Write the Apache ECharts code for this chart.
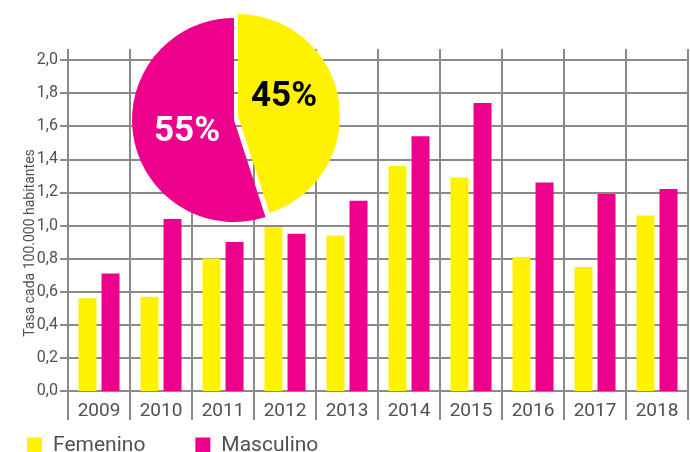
<!DOCTYPE html>
<html>
<head>
<meta charset="utf-8">
<script src="https://cdn.jsdelivr.net/npm/echarts@6/dist/echarts.min.js"></script>
<style>
  html, body {margin: 0; padding: 0; background: #fff;}
  #chart {width: 690px; height: 452px;}
</style>
</head>
<body>
<div id="chart"></div>
<script>
var years = ['2009', '2010', '2011', '2012', '2013', '2014', '2015', '2016', '2017', '2018'];
var femenino = [0.56, 0.57, 0.80, 0.99, 0.94, 1.36, 1.29, 0.81, 0.75, 1.06];
var masculino = [0.71, 1.04, 0.90, 0.95, 1.15, 1.54, 1.74, 1.26, 1.19, 1.22];
var share = {femenino: 45, masculino: 55};

var font = "'Liberation Sans Narrow', 'Arial Narrow', Roboto, sans-serif";
var gris = '#8a8a8a';
var texto = '#505050';
var amarillo = '#fff200';
var magenta = '#ec008c';

var chart = echarts.init(document.getElementById('chart'));

var option = {
    animation: false,
    grid: [
        {left: 68, right: 2, top: 60, bottom: 61},
        {left: 68, right: 2, top: 49, bottom: 32}
    ],
    xAxis: [
        {type: 'category', gridIndex: 0, data: years,
            axisLine: {lineStyle: {color: gris, width: 2}},
            axisTick: {show: false},
            axisLabel: {color: texto, fontFamily: font, fontSize: 19, margin: 11},
            splitLine: {show: false}},
        {type: 'category', gridIndex: 1, data: years,
            axisLine: {show: false}, axisTick: {show: false}, axisLabel: {show: false},
            splitLine: {show: true, showMinLine: true, showMaxLine: true, lineStyle: {color: gris, width: 2}}}
    ],
    yAxis: [
        {type: 'value', gridIndex: 0, min: 0, max: 2, interval: 0.2,
            axisLine: {show: true, lineStyle: {color: gris, width: 2}},
            axisTick: {show: true, length: 8, lineStyle: {color: gris, width: 2}},
            axisLabel: {color: texto, fontFamily: font, fontSize: 16, margin: 10,
                formatter: function (v) { return v.toFixed(1).replace('.', ','); }},
            splitLine: {lineStyle: {color: gris, width: 2}}},
        {type: 'value', gridIndex: 1, show: false, min: 0, max: 1}
    ],
    legend: {
        left: 22, top: 430, itemWidth: 15, itemHeight: 16, itemGap: 50,
        icon: 'rect',
        textStyle: {color: texto, fontFamily: font, fontSize: 21, padding: [0, 0, 0, 6]},
        data: ['Femenino', 'Masculino']
    },
    series: [
        {name: 'Femenino', type: 'bar', data: femenino, barWidth: 18, barGap: '28%',
            itemStyle: {color: amarillo}, silent: true},
        {name: 'Masculino', type: 'bar', data: masculino, barWidth: 18,
            itemStyle: {color: magenta}, silent: true},
        // la porción amarilla va un poco desplazada respecto a la magenta
        {type: 'pie', center: [238, 116], radius: 102, startAngle: 90, clockwise: true,
            z: 10, silent: true, label: {show: false}, labelLine: {show: false},
            data: [
                {value: share.femenino, name: 'Femenino', itemStyle: {color: amarillo}},
                {value: share.masculino, name: 'Masculino', itemStyle: {color: 'rgba(0,0,0,0)'}}
            ]},
        {type: 'pie', center: [234, 120], radius: 102, startAngle: 90, clockwise: true,
            z: 10, silent: true, label: {show: false}, labelLine: {show: false},
            data: [
                {value: share.femenino, name: 'Femenino', itemStyle: {color: 'rgba(0,0,0,0)'}},
                {value: share.masculino, name: 'Masculino', itemStyle: {color: magenta}}
            ]}
    ],
    graphic: [
        {type: 'text', x: 30, y: 243, rotation: Math.PI / 2, z: 20,
            style: {text: 'Tasa cada 100.000 habitantes', fill: texto, font: '14px ' + font,
                textAlign: 'center', textVerticalAlign: 'middle'}},
        {type: 'text', x: 284, y: 97, z: 20,
            style: {text: share.femenino + '%', fill: '#000', font: 'bold 35px ' + font,
                textAlign: 'center', textVerticalAlign: 'middle'}},
        {type: 'text', x: 187, y: 132, z: 20,
            style: {text: share.masculino + '%', fill: '#fff', font: 'bold 35px ' + font,
                textAlign: 'center', textVerticalAlign: 'middle'}}
    ]
};

chart.setOption(option);
</script>
</body>
</html>
